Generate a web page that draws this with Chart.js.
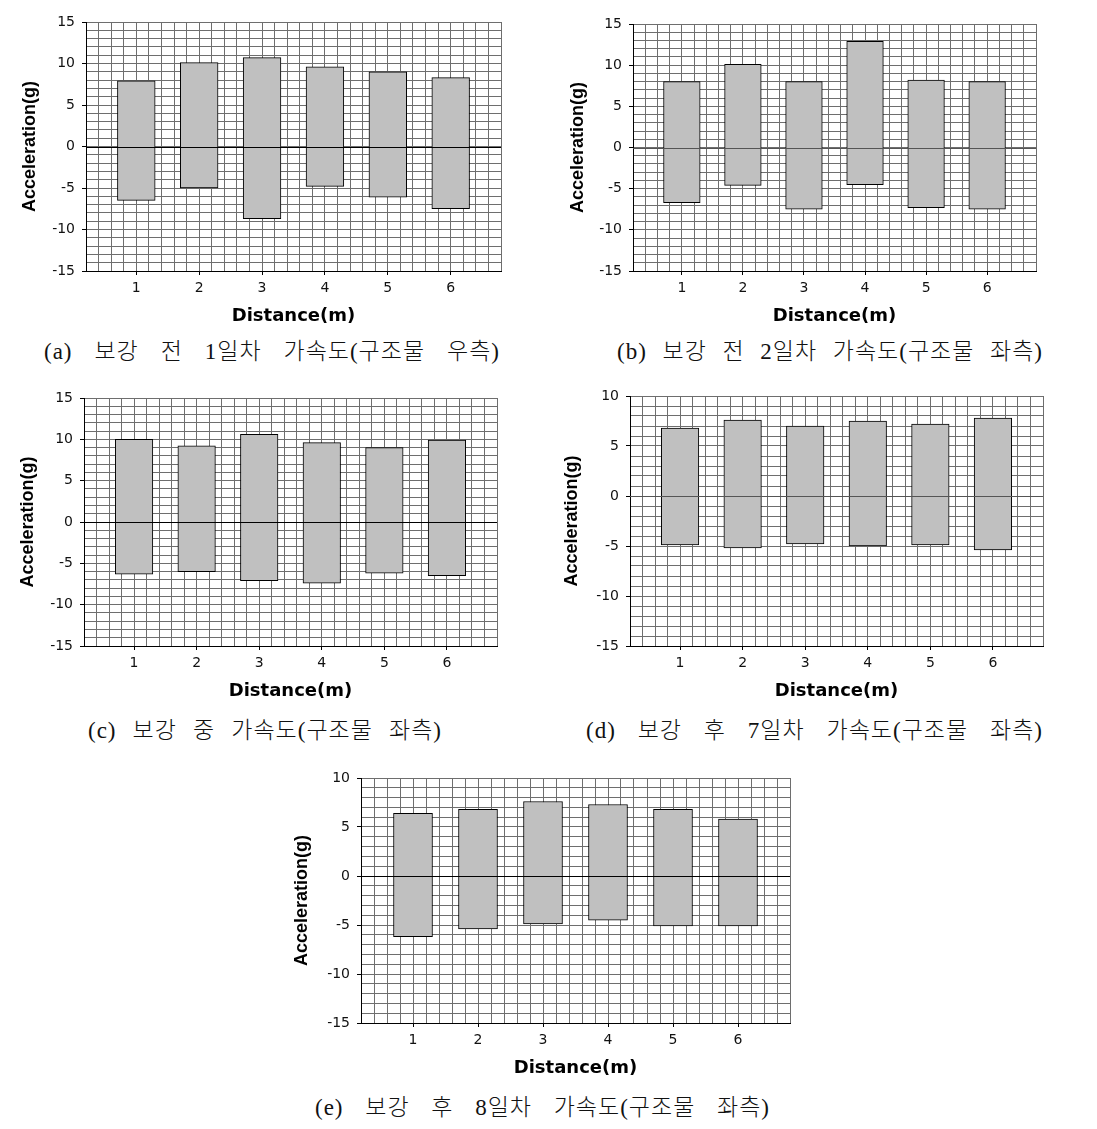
<!DOCTYPE html>
<html>
<head>
<meta charset="utf-8">
<script src="https://cdn.jsdelivr.net/npm/chart.js@4.4.0/dist/chart.umd.min.js"></script>
<style>
  body { margin: 0; background: #fff; }
  #page { position: relative; width: 1097px; height: 1129px; overflow: hidden; background: #fff; }
  canvas { position: absolute; }
  .cap {
    position: absolute;
    font-family: "Liberation Serif", "Noto Sans CJK KR", serif;
    font-size: 23px;
    font-weight: 300;
    letter-spacing: 1px;
    line-height: 24px;
    color: #111;
    text-align: justify;
    text-align-last: justify;
  }
</style>
</head>
<body>
<div id="page">
  <canvas id="chartA" width="520" height="335" style="left:0px;top:0px"></canvas>
  <canvas id="chartB" width="510" height="335" style="left:550px;top:0px"></canvas>
  <canvas id="chartC" width="520" height="334" style="left:0px;top:376px"></canvas>
  <canvas id="chartD" width="520" height="334" style="left:550px;top:376px"></canvas>
  <canvas id="chartE" width="530" height="331" style="left:280px;top:756px"></canvas>

  <div class="cap" style="left:44px;top:340px;width:456px">(a) 보강 전 1일차 가속도(구조물 우측)</div>
  <div class="cap" style="left:617px;top:340px;width:426px">(b) 보강 전 2일차 가속도(구조물 좌측)</div>
  <div class="cap" style="left:88px;top:719px;width:354px">(c) 보강 중 가속도(구조물 좌측)</div>
  <div class="cap" style="left:586px;top:719px;width:457px">(d) 보강 후 7일차 가속도(구조물 좌측)</div>
  <div class="cap" style="left:315px;top:1096px;width:455px">(e) 보강 후 8일차 가속도(구조물 좌측)</div>
</div>

<script>
// 거리(m)
const distance = [1, 2, 3, 4, 5, 6];

// (a) 보강 전 1일차
const maxA = [7.9, 10.1, 10.7, 9.6, 9.0, 8.3];
const minA = [-6.5, -5.0, -8.7, -4.8, -6.1, -7.5];
// (b) 보강 전 2일차
const maxB = [8.0, 10.1, 8.0, 12.9, 8.2, 8.0];
const minB = [-6.7, -4.6, -7.5, -4.5, -7.3, -7.5];
// (c) 보강 중
const maxC = [10.0, 9.2, 10.6, 9.6, 9.0, 9.9];
const minC = [-6.3, -6.0, -7.1, -7.4, -6.2, -6.5];
// (d) 보강 후 7일차
const maxD = [6.8, 7.6, 7.0, 7.5, 7.2, 7.8];
const minD = [-4.9, -5.2, -4.8, -5.0, -4.9, -5.4];
// (e) 보강 후 8일차
const maxE = [6.4, 6.8, 7.6, 7.3, 6.8, 5.8];
const minE = [-6.2, -5.4, -4.9, -4.5, -5.1, -5.1];

const xRange = [0.2, 6.8];
const yRange15 = [-15, 15];
const yRange10 = [-15, 10];

Chart.defaults.font.family = 'DejaVu Sans';
Chart.defaults.color = '#111';

// 0 선은 막대 위에 그림
const zeroLine = {
  id: 'zeroLine',
  afterDatasetsDraw(chart, args, opts) {
    const {ctx, chartArea, scales} = chart;
    const yy = Math.round(scales.y.getPixelForValue(0)) + 0.5;
    ctx.save();
    ctx.strokeStyle = opts.color;
    ctx.lineWidth = 1;
    ctx.beginPath();
    ctx.moveTo(chartArea.left, yy);
    ctx.lineTo(chartArea.right, yy);
    ctx.stroke();
    ctx.restore();
  }
};

function isWhole(v) {
  return Math.abs(v - Math.round(v)) < 1e-6;
}

function makeChart(id, maxVals, minVals, yRange, box) {
  const data = distance.map((d, i) => ({x: d, y: [minVals[i], maxVals[i]]}));
  return new Chart(document.getElementById(id), {
    type: 'bar',
    data: {
      datasets: [{
        data: data,
        backgroundColor: '#c0c0c0',
        borderColor: '#000',
        borderWidth: 1,
        borderSkipped: false,
        barThickness: 'flex',
        categoryPercentage: 1,
        barPercentage: 0.6
      }]
    },
    options: {
      responsive: false,
      animation: false,
      devicePixelRatio: 1,
      layout: {padding: {top: box.padTop, right: box.padRight, left: 0, bottom: 0}},
      plugins: {
        legend: {display: false},
        tooltip: {enabled: false},
        zeroLine: {color: box.zero}
      },
      scales: {
        x: {
          type: 'linear',
          min: xRange[0],
          max: xRange[1],
          offset: false,
          grid: {
            offset: false,
            color: '#6e6e6e',
            lineWidth: 1,
            tickLength: 4,
            tickColor: c => isWhole(c.tick.value) ? '#000' : 'rgba(0,0,0,0)'
          },
          border: {color: '#000', width: 1},
          ticks: {
            stepSize: 0.2,
            autoSkip: false,
            maxRotation: 0,
            padding: 5,
            font: {size: 14},
            callback: v => isWhole(v) ? Math.round(v) : ''
          },
          title: {
            display: true,
            text: 'Distance(m)',
            color: '#000',
            font: {size: 18, weight: 'bold'},
            padding: {top: 0, bottom: 8}
          },
          afterFit: s => { s.height = 64; }
        },
        y: {
          min: yRange[0],
          max: yRange[1],
          grid: {
            color: '#6e6e6e',
            lineWidth: 1,
            tickLength: 4,
            tickColor: c => c.tick.value % 5 === 0 ? '#000' : 'rgba(0,0,0,0)'
          },
          border: {color: '#000', width: 1},
          ticks: {
            stepSize: 1,
            autoSkip: false,
            padding: 7,
            font: {size: 14},
            callback: v => v % 5 === 0 ? v : ''
          },
          title: {
            display: true,
            text: 'Acceleration(g)',
            color: '#000',
            font: {family: 'Liberation Sans', size: 18, weight: 'bold'},
            padding: {top: box.titleX - 11, bottom: 0}
          },
          afterFit: s => { s.width = box.yWidth; }
        }
      }
    },
    plugins: [zeroLine]
  });
}

makeChart('chartA', maxA, minA, yRange15, {padTop: 22, padRight: 19, yWidth: 86, titleX: 30, zero: '#000'});
makeChart('chartB', maxB, minB, yRange15, {padTop: 24, padRight: 24, yWidth: 83, titleX: 28, zero: '#555'});
makeChart('chartC', maxC, minC, yRange15, {padTop: 22, padRight: 23, yWidth: 84, titleX: 28, zero: '#000'});
makeChart('chartD', maxD, minD, yRange10, {padTop: 20, padRight: 27, yWidth: 80, titleX: 22, zero: '#555'});
makeChart('chartE', maxE, minE, yRange10, {padTop: 22, padRight: 20, yWidth: 81, titleX: 22, zero: '#000'});
</script>
</body>
</html>
